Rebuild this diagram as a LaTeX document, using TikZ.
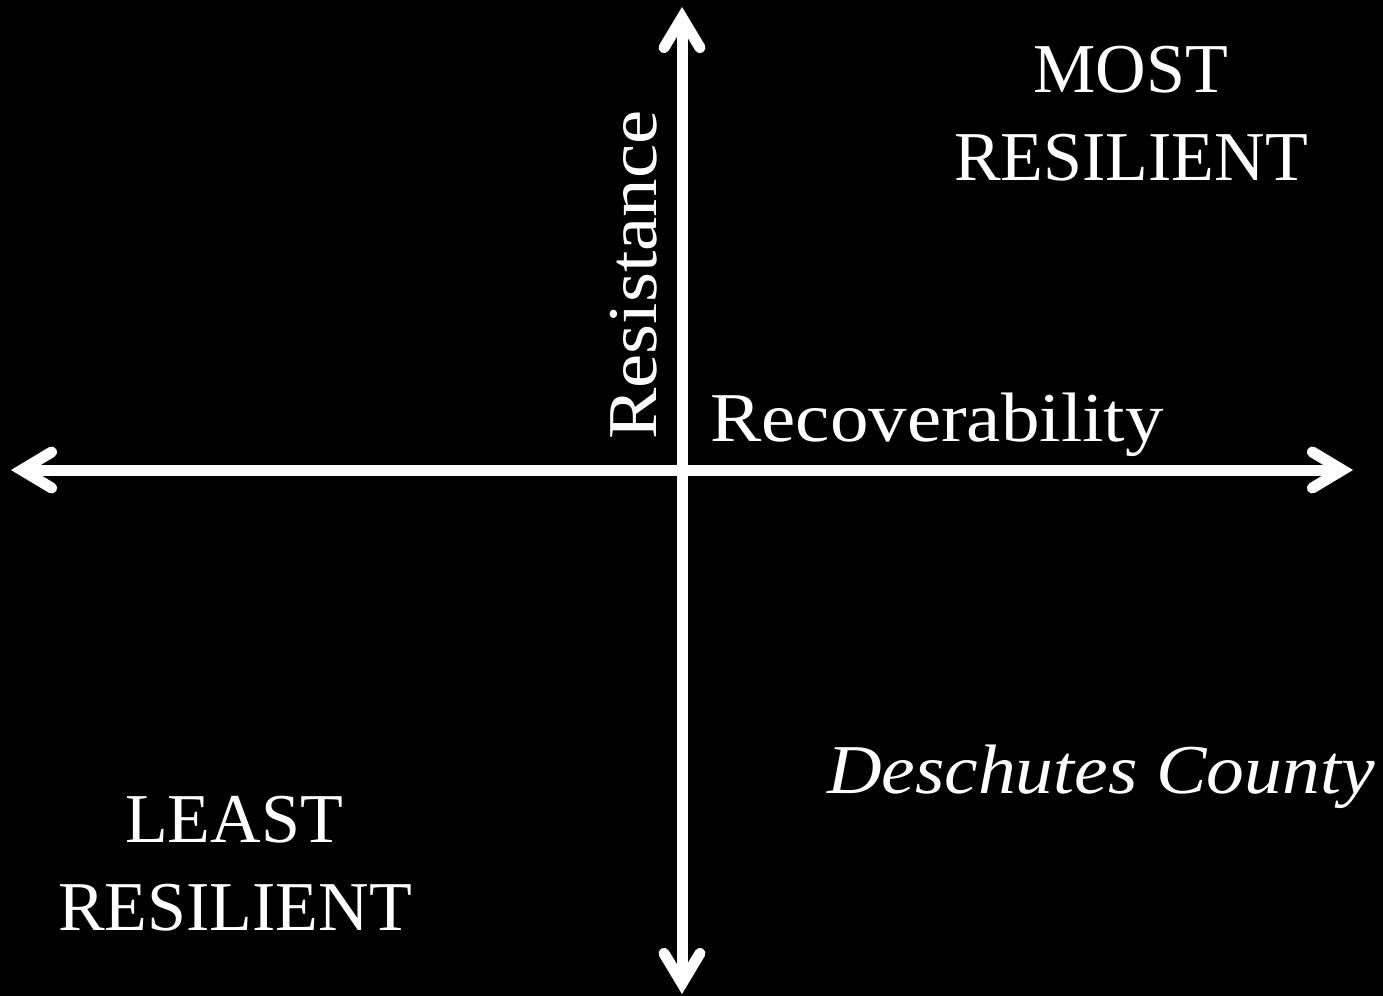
\documentclass[tikz,border=0pt]{standalone}
\usepackage{fontspec}
\setmainfont{Liberation Serif}
\newfontfamily\widefont{Liberation Serif}[FakeStretch=1.1]
\newfontfamily\slantfont{Liberation Serif}[FakeStretch=1.08]
\usetikzlibrary{arrows.meta}
\tikzset{
  x=0.5pt, y=-0.5pt,
  >={Straight Barb[length=15pt 0 0, width=18pt 0 0, line cap=round, line join=miter]},
  axis/.style={<->, draw=white, line width=5.5pt},
  lbl/.style={text=white, inner sep=0pt, anchor=base, font=\fontsize{35}{42}\selectfont},
  word/.style={lbl, font=\fontsize{35}{42}\selectfont\widefont},
}

\begin{document}
\begin{tikzpicture}
  \fill[black] (0,0) rectangle (1383,996);
  \useasboundingbox (0,0) rectangle (1383,996);
  % axes
  \coordinate (west) at (11,470);
  \coordinate (east) at (1353,470);
  \coordinate (north) at (682,7);
  \coordinate (south) at (682,994);
  \draw[axis] (west) -- (east);
  \draw[axis] (south) -- (north);
  % axis names
  \node[word, rotate=90, anchor=base west] (resist) at (656,440) {Resistance};
  \node[word, anchor=base west] (recov) at (710,441) {Recoverability};
  % corners
  \node[lbl] (most) at (1131,92) {MOST};
  \node[lbl] (mostres) at (1131,180) {RESILIENT};
  \node[lbl] (least) at (234,842) {LEAST};
  \node[lbl] (leastres) at (235,930) {RESILIENT};
  \node[lbl, font=\fontsize{35}{42}\selectfont\slantfont\itshape] (county) at (1101,793) {Deschutes County};
\end{tikzpicture}
\end{document}
